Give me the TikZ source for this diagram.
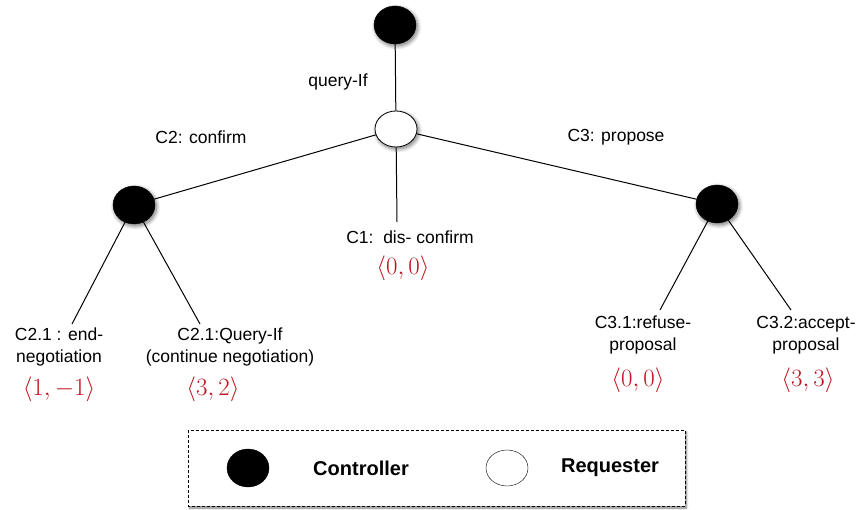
\documentclass[tikz,border=0pt]{standalone}
\usepackage{fontspec}
\setmainfont{Liberation Sans}
\usetikzlibrary{shapes.geometric,shadows.blur}
\definecolor{payred}{RGB}{190,20,30}
\tikzset{
  ctrl/.style={ellipse,draw=black,fill=black,minimum width=42pt,minimum height=38pt,inner sep=0pt},
  reqr/.style={ellipse,draw=black,thick,fill=white,minimum width=42pt,minimum height=36pt,inner sep=0pt},
  soft/.style={blur shadow={shadow xshift=1.5pt,shadow yshift=-2pt,shadow blur radius=4pt,shadow opacity=55,shadow blur steps=8}},
  lbl/.style={align=center,inner sep=0pt,font=\fontsize{17.5}{22}\selectfont},
  keytext/.style={inner sep=0pt,font=\fontsize{20}{24}\selectfont\bfseries},
  payoff/.style={inner sep=0pt,text=payred,font=\fontsize{25}{28}\selectfont},
  edge/.style={line width=1pt}
}
\begin{document}
\begin{tikzpicture}[x=1pt,y=-1pt]
\useasboundingbox (0,0) rectangle (858,510);
% tree
\node[ctrl,soft] (root) at (395,25) {};
\node[reqr,soft] (req) at (396,129) {};
\node[ctrl,soft] (c2) at (134,205) {};
\node[ctrl,soft] (c3) at (717,204) {};
\draw[edge] (root) -- (req);
\draw[edge] (req) -- (c2);
\draw[edge] (req) -- (c3);

\node[lbl] (qif) at (338,82) {query-If};
\node[lbl] (cf) at (201,137) {C2: confirm};
\node[lbl] (pr) at (616,137) {C3: propose};

% C1
\coordinate (e0) at (397,222);
\draw[edge] (req) -- (e0);
\node[lbl] (l0) at (410,237) {C1:\ \ dis- confirm};
\node[payoff] (p0) at (403,268) {$\langle 0,0\rangle$};

% C2 leaves
\coordinate (e1) at (72,324);
\coordinate (e2) at (200,324);
\draw[edge] (c2) -- (e1);
\draw[edge] (c2) -- (e2);
\node[lbl] (l1) at (59,347) {C2.1 : end-\\negotiation};
\node[lbl] (l2) at (230,347) {C2.1:Query-If\\(continue negotiation)};
\node[payoff] (p1) at (59,389) {$\langle 1,-1\rangle$};
\node[payoff] (p2) at (213,389) {$\langle 3,2\rangle$};

% C3 leaves
\coordinate (e3) at (660,310);
\coordinate (e4) at (791,310);
\draw[edge] (c3) -- (e3);
\draw[edge] (c3) -- (e4);
\node[lbl] (l3) at (643,335) {C3.1:refuse-\\proposal};
\node[lbl] (l4) at (806,335) {C3.2:accept-\\proposal};
\node[payoff] (p3) at (638,380) {$\langle 0,0\rangle$};
\node[payoff] (p4) at (808,380) {$\langle 3,3\rangle$};

% legend
\draw[densely dashed,fill=white,blur shadow={shadow xshift=1.5pt,shadow yshift=-2pt,shadow blur radius=2pt,shadow opacity=50,shadow blur steps=5}] (188,430) rectangle (685,506);
\node[ctrl] (kc) at (248,468) {};
\node[keytext] (kct) at (361,468) {Controller};
\node[reqr,thin] (kr) at (507,468) {};
\node[keytext] (krt) at (610,468) {Requester};
\end{tikzpicture}
\end{document}
